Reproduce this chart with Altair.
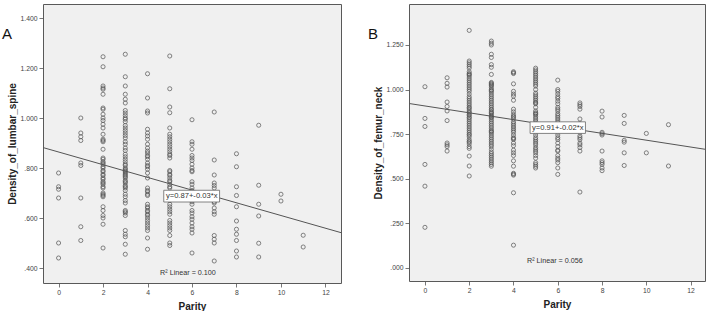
import altair as alt
import pandas as pd

# Lumbar spine bone density by parity
lumbar_p0 = [0.78, 0.725, 0.715, 0.68, 0.50, 0.44]
lumbar_p1 = [1.00, 0.94, 0.925, 0.91, 0.82, 0.81, 0.68, 0.565, 0.51]
lumbar_p2 = [1.245, 1.205, 1.128, 1.12, 1.115, 1.095, 1.04, 1.035, 1.015, 1.0, 0.99,
             0.975, 0.96, 0.935, 0.915, 0.91, 0.905, 0.875, 0.84, 0.835, 0.825, 0.82,
             0.815, 0.805, 0.80, 0.79, 0.785, 0.775, 0.77, 0.76, 0.755, 0.745, 0.74,
             0.735, 0.725, 0.72, 0.70, 0.695, 0.69, 0.685, 0.645, 0.63, 0.61, 0.60,
             0.575, 0.48]
lumbar_p3 = [1.255, 1.165, 1.128, 1.095, 1.075, 1.06, 1.03, 1.02, 1.01, 1.0, 0.995,
             0.985, 0.97, 0.96, 0.95, 0.94, 0.93, 0.92, 0.905, 0.895, 0.88, 0.87,
             0.855, 0.845, 0.835, 0.825, 0.815, 0.81, 0.80, 0.795, 0.79, 0.785, 0.78,
             0.775, 0.77, 0.765, 0.76, 0.75, 0.745, 0.74, 0.73, 0.725, 0.72, 0.71,
             0.695, 0.685, 0.67, 0.66, 0.63, 0.625, 0.62, 0.61, 0.55, 0.535, 0.525,
             0.495, 0.455]
lumbar_p4 = [1.177, 1.08, 1.028, 1.02, 0.955, 0.94, 0.928, 0.915, 0.895, 0.88, 0.868,
             0.86, 0.85, 0.845, 0.835, 0.82, 0.81, 0.805, 0.795, 0.78, 0.76, 0.72,
             0.71, 0.705, 0.695, 0.69, 0.655, 0.645, 0.64, 0.63, 0.625, 0.615, 0.61,
             0.60, 0.59, 0.58, 0.57, 0.56, 0.55, 0.52, 0.475]
lumbar_p5 = [1.248, 1.117, 1.044, 1.021, 0.96, 0.935, 0.925, 0.915, 0.905, 0.895,
             0.885, 0.875, 0.865, 0.855, 0.85, 0.84, 0.79, 0.785, 0.775, 0.77, 0.76,
             0.75, 0.745, 0.735, 0.725, 0.72, 0.70, 0.69, 0.68, 0.67, 0.655, 0.645,
             0.635, 0.625, 0.615, 0.59, 0.58, 0.57, 0.56, 0.55, 0.53, 0.50, 0.49]
lumbar_p6 = [0.993, 0.905, 0.895, 0.875, 0.85, 0.84, 0.83, 0.815, 0.80, 0.79, 0.785,
             0.745, 0.735, 0.72, 0.71, 0.705, 0.665, 0.655, 0.63, 0.62, 0.605, 0.595,
             0.58, 0.565, 0.555, 0.54, 0.46]
lumbar_p7 = [1.024, 0.832, 0.772, 0.74, 0.73, 0.72, 0.70, 0.69, 0.68, 0.675, 0.665,
             0.66, 0.64, 0.625, 0.615, 0.53, 0.515, 0.50, 0.428]
lumbar_p8 = [0.857, 0.805, 0.725, 0.69, 0.645, 0.588, 0.555, 0.535, 0.51, 0.468, 0.444]
lumbar_p9 = [0.971, 0.731, 0.655, 0.608, 0.499, 0.444]
lumbar_p10 = [0.695, 0.668]
lumbar_p11 = [0.531, 0.484]

# Femur neck bone density by parity
femur_p0 = [1.016, 0.838, 0.793, 0.58, 0.458, 0.227]
femur_p1 = [1.066, 1.035, 1.014, 0.93, 0.905, 0.88, 0.826, 0.70, 0.69, 0.68, 0.655]
femur_p2 = [1.332, 1.16, 1.15, 1.14, 1.13, 1.12, 1.10, 1.09, 1.085, 1.08, 1.07, 1.06,
            1.05, 1.04, 1.03, 1.02, 1.01, 1.0, 0.99, 0.975, 0.96, 0.95, 0.94, 0.93,
            0.92, 0.91, 0.90, 0.895, 0.885, 0.875, 0.87, 0.86, 0.855, 0.845, 0.84,
            0.83, 0.82, 0.81, 0.80, 0.79, 0.78, 0.77, 0.76, 0.75, 0.745, 0.735, 0.72,
            0.71, 0.705, 0.695, 0.68, 0.67, 0.627, 0.571, 0.515]
femur_p3 = [1.272, 1.26, 1.25, 1.198, 1.18, 1.14, 1.125, 1.085, 1.04, 1.035, 1.03,
            1.025, 1.02, 1.01, 1.0, 0.995, 0.99, 0.98, 0.97, 0.96, 0.95, 0.94, 0.93,
            0.92, 0.91, 0.90, 0.89, 0.885, 0.875, 0.87, 0.865, 0.855, 0.85, 0.845,
            0.84, 0.83, 0.82, 0.81, 0.80, 0.79, 0.78, 0.77, 0.765, 0.76, 0.75, 0.74,
            0.73, 0.72, 0.71, 0.70, 0.69, 0.68, 0.665, 0.65, 0.64, 0.63, 0.62, 0.61,
            0.60, 0.59, 0.58, 0.57]
femur_p4 = [1.10, 1.095, 1.09, 1.032, 0.99, 0.975, 0.963, 0.94, 0.89, 0.875, 0.86,
            0.85, 0.845, 0.835, 0.82, 0.81, 0.80, 0.79, 0.78, 0.77, 0.76, 0.745, 0.73,
            0.725, 0.72, 0.70, 0.685, 0.66, 0.645, 0.63, 0.60, 0.57, 0.53, 0.525, 0.52,
            0.421, 0.127]
femur_p5 = [1.12, 1.11, 1.10, 1.09, 1.08, 1.07, 1.06, 1.05, 1.04, 1.03, 1.02, 1.0,
            0.98, 0.97, 0.96, 0.95, 0.94, 0.93, 0.925, 0.92, 0.90, 0.88, 0.87, 0.865,
            0.86, 0.85, 0.84, 0.83, 0.82, 0.81, 0.80, 0.79, 0.78, 0.77, 0.76, 0.745,
            0.73, 0.72, 0.71, 0.70, 0.69, 0.675, 0.665, 0.655, 0.645, 0.63, 0.615,
            0.59, 0.58, 0.57, 0.56]
femur_p6 = [1.053, 1.0, 0.99, 0.975, 0.96, 0.95, 0.935, 0.92, 0.90, 0.89, 0.88, 0.865,
            0.855, 0.845, 0.835, 0.825, 0.815, 0.80, 0.79, 0.785, 0.76, 0.745, 0.73,
            0.72, 0.70, 0.68, 0.66, 0.655, 0.63, 0.615, 0.605, 0.59, 0.56, 0.524]
femur_p7 = [0.925, 0.915, 0.905, 0.89, 0.835, 0.81, 0.80, 0.785, 0.76, 0.74, 0.73,
            0.72, 0.70, 0.69, 0.675, 0.655, 0.425]
femur_p8 = [0.879, 0.846, 0.76, 0.752, 0.745, 0.655, 0.60, 0.59, 0.58, 0.56, 0.545]
femur_p9 = [0.855, 0.81, 0.715, 0.705, 0.645, 0.574]
femur_p10 = [0.754, 0.645]
femur_p11 = [0.803, 0.571]

lumbar_by_parity = [lumbar_p0, lumbar_p1, lumbar_p2, lumbar_p3, lumbar_p4, lumbar_p5,
                    lumbar_p6, lumbar_p7, lumbar_p8, lumbar_p9, lumbar_p10, lumbar_p11]
femur_by_parity = [femur_p0, femur_p1, femur_p2, femur_p3, femur_p4, femur_p5,
                   femur_p6, femur_p7, femur_p8, femur_p9, femur_p10, femur_p11]

# Fitted linear models (intercept, slope) and their summary labels
lumbar_fit = (0.864, -0.0254)
femur_fit = (0.908, -0.0192)
lumbar_eq = "y=0.87+-0.03*x"
femur_eq = "y=0.91+-0.02*x"
lumbar_r2 = "R\u00b2 Linear = 0.100"
femur_r2 = "R\u00b2 Linear = 0.056"

parity_ticks = [0, 2, 4, 6, 8, 10, 12]
lumbar_ticks = [0.4, 0.6, 0.8, 1.0, 1.2, 1.4]
femur_ticks = [0.0, 0.25, 0.5, 0.75, 1.0, 1.25]

FONT = "Liberation Sans"
GREY = "#555555"
Y_LABELS = ("datum.value < 1 ? substring(format(datum.value, '.3f'), 1) "
            ": format(datum.value, '.3f')")


def long_table(columns):
    rows = []
    for parity, values in enumerate(columns):
        for v in values:
            rows.append({"parity": parity, "density": v})
    return pd.DataFrame(rows)


def panel(columns, y_title, y_domain, y_ticks, x_domain, width, height, fit,
          eq_text, eq_box, r2_text, r2_pos, letter):
    x_scale = alt.Scale(domain=x_domain, nice=False, zero=False)
    y_scale = alt.Scale(domain=y_domain, nice=False, zero=False)
    x_axis = alt.Axis(values=parity_ticks, format="d", title="Parity",
                      titleX=width / 2, titleY=18, titleBaseline="top",
                      titleAlign="center")
    y_axis = alt.Axis(values=y_ticks, labelExpr=Y_LABELS, title=y_title,
                      titleX=-31, titleY=height / 2, titleAngle=270,
                      titleAlign="center", titleBaseline="middle")

    pts = alt.Chart(long_table(columns)).mark_point(
        shape="circle", filled=False, size=17, strokeWidth=0.8,
        color=GREY, opacity=0.9,
    ).encode(
        x=alt.X("parity:Q", scale=x_scale, axis=x_axis),
        y=alt.Y("density:Q", scale=y_scale, axis=y_axis),
    )

    b0, b1 = fit
    line_df = pd.DataFrame({"parity": list(x_domain)})
    line_df["density"] = b0 + b1 * line_df["parity"]
    line = alt.Chart(line_df).mark_line(color=GREY, strokeWidth=1).encode(
        x=alt.X("parity:Q", scale=x_scale),
        y=alt.Y("density:Q", scale=y_scale),
    )

    x0, x1, y0, y1 = eq_box
    box_df = pd.DataFrame({"x0": [x0], "x1": [x1], "y0": [y0], "y1": [y1],
                           "xc": [(x0 + x1) / 2], "yc": [(y0 + y1) / 2],
                           "label": [eq_text]})
    box = alt.Chart(box_df).mark_rect(fill="white", stroke="#666666",
                                      strokeWidth=0.8).encode(
        x=alt.X("x0:Q", scale=x_scale), x2="x1:Q",
        y=alt.Y("y0:Q", scale=y_scale), y2="y1:Q",
    )
    eq = alt.Chart(box_df).mark_text(fontSize=7.6, color="#333333",
                                     font=FONT).encode(
        x=alt.X("xc:Q", scale=x_scale),
        y=alt.Y("yc:Q", scale=y_scale),
        text="label:N",
    )

    r2_df = pd.DataFrame({"x": [r2_pos[0]], "y": [r2_pos[1]], "label": [r2_text]})
    r2 = alt.Chart(r2_df).mark_text(fontSize=7.2, color="#333333",
                                    font=FONT).encode(
        x=alt.X("x:Q", scale=x_scale),
        y=alt.Y("y:Q", scale=y_scale),
        text="label:N",
    )

    tag = alt.Chart(r2_df).mark_text(fontSize=15, color="#111111", align="left",
                                     baseline="alphabetic", font=FONT).encode(
        x=alt.value(-41), y=alt.value(35), text=alt.value(letter),
    )

    return alt.layer(pts, line, box, eq, r2, tag).properties(width=width,
                                                            height=height)


panel_a = panel(lumbar_by_parity, "Density_of_lumbar_spine", [0.34, 1.456],
                lumbar_ticks, [-0.7, 12.7], 298, 279, lumbar_fit, lumbar_eq,
                (4.73, 7.24, 0.711, 0.664), lumbar_r2, (5.82, 0.381), "A")
panel_b = panel(femur_by_parity, "Density_of_femur_neck", [-0.074, 1.48],
                femur_ticks, [-0.72, 12.65], 296, 277, femur_fit, femur_eq,
                (4.75, 7.25, 0.819, 0.754), femur_r2, (5.87, 0.038), "B")

chart = alt.hconcat(panel_a, panel_b, spacing=68, bounds="flush").properties(
    padding={"left": 1, "top": 3, "right": 0, "bottom": 0},
    background="white",
).configure(font=FONT).configure_view(
    fill="#f0f0f0", stroke="#595959", strokeWidth=1,
).configure_axis(
    domain=False, grid=False, ticks=True, tickColor=GREY, tickSize=4,
    tickWidth=0.8, labelFont=FONT, labelFontSize=6.8, labelColor="#444444",
    labelPadding=2, titleFont=FONT, titleFontSize=10, titleFontWeight="bold",
    titleColor="#222222",
)

chart.save("out.html", embed_options={"renderer": "svg", "actions": False})
